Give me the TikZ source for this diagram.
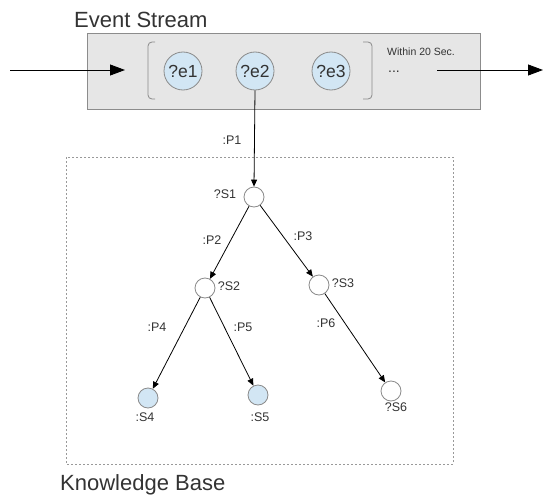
\documentclass[tikz,border=0pt]{standalone}
\usepackage{fontspec}
\setmainfont{Liberation Sans}
\usetikzlibrary{arrows.meta}
\definecolor{textgray}{HTML}{333333}
\definecolor{edgegray}{HTML}{8A8A8A}
\definecolor{streamgray}{HTML}{E6E6E6}
\definecolor{boxgray}{HTML}{8C8C8C}
\definecolor{evblue}{HTML}{D2E6F4}
\definecolor{dotgray}{HTML}{999999}
\begin{document}
\begin{tikzpicture}[x=1pt,y=-1pt,
  txt/.style={text=textgray, inner sep=0pt, font=\fontsize{12.5}{14}\selectfont},
  title/.style={text=textgray, inner sep=0pt, font=\fontsize{22}{24}\selectfont},
  evnode/.style={circle, draw=edgegray, fill=evblue, minimum size=38pt, inner sep=0pt,
    line width=0.8pt, text=textgray, font=\fontsize{17.5}{20}\selectfont},
  knode/.style={circle, draw=edgegray, fill=white, minimum size=20pt, inner sep=0pt, line width=0.8pt},
  kconst/.style={knode, fill=evblue},
  link/.style={draw=black, line width=0.8pt, -{Triangle[length=7pt,width=6pt]}},
  flow/.style={draw=black, line width=0.9pt, -{Triangle[length=15pt,width=11pt]}},
  bracket/.style={draw=edgegray, line width=0.8pt, rounded corners=4pt},
]
\useasboundingbox (0,0) rectangle (543,495);

% event stream window
\node[draw=boxgray, fill=streamgray, line width=0.8pt, minimum width=393pt, minimum height=76pt,
  inner sep=0pt, anchor=north west] (stream) at (87,33) {};
\node[title, anchor=base west] (streamtitle) at (74,28) {Event Stream};
\draw[bracket] (155,42) -- (148,42) -- (148,99) -- (155,99);
\draw[bracket] (363,42) -- (372,42) -- (372,99) -- (363,99);
\node[evnode] (e1) at (183,71) {?e1};
\node[evnode] (e2) at (255,71) {?e2};
\node[evnode] (e3) at (331,71) {?e3};
\node[text=textgray, inner sep=0pt, font=\fontsize{10.5}{12}\selectfont, anchor=west] (within) at (387,52) {Within 20 Sec.};
\node[text=textgray, inner sep=0pt, font=\fontsize{14}{16}\selectfont, anchor=west] (dots) at (388,72) {...};

% stream input and output
\coordinate (inStart) at (10,70);
\coordinate (inEnd) at (125,70);
\coordinate (outStart) at (437,70);
\coordinate (outEnd) at (543,70);
\draw[flow] (inStart) -- (inEnd);
\draw[flow] (outStart) -- (outEnd);

% knowledge base
\draw[dotgray, line width=0.8pt, dash pattern=on 2pt off 2pt] (66,157) rectangle (453,464);
\node[title, anchor=base west] (kbtitle) at (60,490) {Knowledge Base};

\node[knode] (s1) at (254,197) {};
\node[knode] (s2) at (205,288) {};
\node[knode] (s3) at (319,285) {};
\node[kconst] (s4) at (148,398) {};
\node[kconst] (s5) at (258,395) {};
\node[knode] (s6) at (391,391) {};

\node[txt] (ls1) at (225,194) {?S1};
\node[txt] (ls2) at (229,286) {?S2};
\node[txt] (ls3) at (343,283) {?S3};
\node[txt] (ls4) at (145,417) {:S4};
\node[txt] (ls5) at (260,417) {:S5};
\node[txt] (ls6) at (396,407) {?S6};

\draw[link] (e2.south) -- (s1.north);
\draw[link] (s1) -- (s2);
\draw[link] (s1) -- (s3);
\draw[link] (s2) -- (s4);
\draw[link] (s2) -- (s5);
\draw[link] (s3) -- (s6);

\node[txt] (p1) at (232,140) {:P1};
\node[txt] (p2) at (212,240) {:P2};
\node[txt] (p3) at (303,236) {:P3};
\node[txt] (p4) at (157,327) {:P4};
\node[txt] (p5) at (243,327) {:P5};
\node[txt] (p6) at (326,323) {:P6};
\end{tikzpicture}
\end{document}
